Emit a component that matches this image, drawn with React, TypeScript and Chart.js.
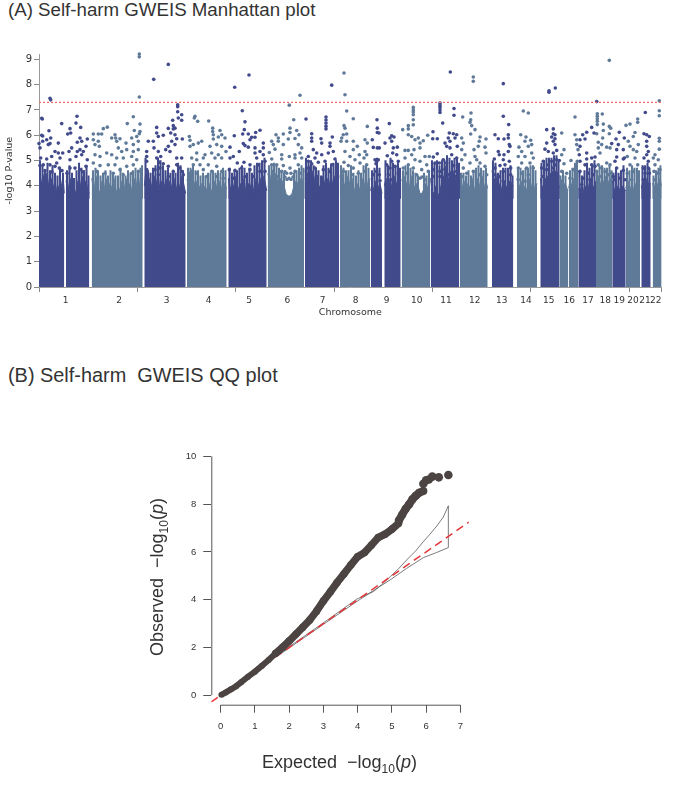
import React, { useEffect, useRef } from "react";
import { Chart, registerables } from "chart.js";

Chart.register(...registerables);

const DARK = "#414A8B";
const LIGHT = "#5F7A99";

const chromLabels = ["1","2","3","4","5","6","7","8","9","10","11","12","13","14","15","16","17","18","19","20","21","22"];
const chromCenters = [26.7,80,127.7,169.7,210,248.3,283.7,316.7,347.7,377.7,407,435.7,462.7,487,509.7,530.3,549,566.3,580.3,594,606,616.7];
const positionTicks = [0,98.7,196.7,295,393.3,491.7,590.3,622.7];
const yTicksA = [0,1,2,3,4,5,6,7,8,9];
const threshold = 7.3;
const xEnd = 622.7;
const cloudFloor = 3.5;

const bandsDark: number[][][] = [
  [[0,4.4],[2,4.0],[4,4.45],[6,4.1],[8,4.5],[10,3.9],[12,4.3],[14,3.9],[16,4.2],[18,3.7],[20,4.0],[22,3.9],[24,4.4],[25.3,3.7]],
  [[27,4.2],[29,3.8],[31,4.3],[33,3.9],[35,3.6],[37,3.8],[39,4.2],[41,3.9],[43,4.4],[45,4.0],[47,4.2],[49,3.8],[50.3,3.7]],
  [[105.3,4.0],[107,4.6],[109,4.0],[111,4.3],[113,3.9],[115,4.4],[117,4.0],[119,4.5],[121,3.8],[123,4.2],[125,3.9],[127,4.3],[129,3.8],[131,4.2],[133,3.9],[135,4.3],[137,3.8],[139,4.2],[141,3.9],[143,4.4],[146.7,3.7]],
  [[189.3,4.3],[191,3.8],[193,4.2],[195,3.9],[197,4.4],[199,3.8],[201,4.1],[203,3.9],[205,4.3],[207,3.7],[209,4.1],[211,3.9],[213,4.2],[215,3.7],[217,4.3],[219,3.9],[221,4.3],[223,3.9],[225,4.4],[227.7,3.8]],
  [[266,4.6],[268,4.3],[270,4.8],[272,4.2],[274,4.6],[276,4.1],[278,4.4],[280,3.9],[282,4.1],[284,4.4],[286,4.0],[288,4.3],[290,4.0],[292,4.4],[294,4.0],[296,4.4],[298,4.1],[300,4.4]],
  [[331.7,3.8],[333,4.1],[335,3.8],[337,4.2],[339,3.9],[341,4.1],[343,3.7]],
  [[345.3,4.0],[347,4.3],[349,3.9],[351,4.3],[353,3.9],[355,4.4],[357,4.0],[359,4.3],[361.7,3.9]],
  [[391.7,4.3],[393,3.8],[395,3.7],[397,4.0],[399,3.6],[401,3.8],[403,4.2],[405,4.4],[407,4.8],[409,4.2],[411,4.5],[413,4.3],[415,4.6],[417,4.2],[419,4.4],[420.3,4.2]],
  [[453,4.6],[455,4.2],[457,4.4],[459,3.9],[461,4.1],[463,3.8],[465,4.2],[467,3.9],[469,4.1],[471,4.2],[474.3,4.0]],
  [[501.3,4.3],[503,3.9],[505,4.1],[507,4.3],[509,4.4],[511,4.3],[513,4.6],[515,4.4],[517,4.6],[519,4.3],[520.3,4.4]],
  [[539.3,3.9],[541,3.8],[543,4.1],[545,3.7],[547,4.0],[549,3.8],[551,4.3],[553,3.8],[555,4.0],[557,4.2]],
  [[573.3,4.2],[575,3.9],[577,3.8],[579,4.0],[581,3.8],[583,4.0],[585,3.9],[586.7,3.8]],
  [[602.3,3.9],[604,4.2],[606,4.0],[608,4.3],[610,4.0],[611.7,4.1]],
];
const bandsLight: number[][][] = [
  [[52.7,4.3],[55,3.8],[57,4.4],[59,3.9],[61,3.7],[63,4.2],[65,3.8],[67,4.3],[69,3.7],[71,4.1],[73,3.9],[75,4.3],[77,3.7],[79,4.0],[81,3.8],[83,4.2],[85,3.8],[87,4.3],[89,3.9],[91,4.1],[93,3.8],[95,4.3],[97,3.9],[99,4.5],[101,3.9],[103.7,4.3]],
  [[148,4.2],[150,4.5],[152,4.6],[154,4.3],[156,4.0],[158,4.2],[160,3.9],[162,4.1],[164,3.7],[166,4.0],[168,3.8],[170,4.1],[172,3.7],[174,4.0],[176,4.2],[178,3.9],[180,4.2],[182,3.8],[184,4.2],[187.7,3.9]],
  [[228.7,4.5],[231,4.2],[233,4.6],[235,4.2],[237,4.5],[239,4.1],[241,4.3],[243,4.2],[245,4.0],[247,3.7],[249,3.6],[251,3.6],[253,3.7],[255,4.0],[257,4.2],[259,4.1],[261,4.3],[263,4.2],[265,4.3]],
  [[301,4.3],[303,4.5],[305,4.1],[307,3.9],[309,4.4],[311,4.0],[313,4.3],[315,3.9],[317,3.8],[319,4.1],[321,3.8],[323,4.3],[325,3.9],[327,4.4],[329,3.9],[331,4.3]],
  [[362.7,4.2],[365,4.4],[367,4.0],[369,4.3],[371,3.9],[373,4.4],[375,3.9],[377,4.1],[379,4.0],[381,3.7],[383,3.7],[385,3.9],[387,4.1],[389,3.9],[391,4.2]],
  [[421,4.3],[423,3.9],[425,4.2],[427,3.8],[429,4.1],[431,3.9],[433,4.3],[435,3.8],[437,4.1],[439,4.3],[441,3.9],[443,4.4],[445,3.9],[447,4.2],[448.7,3.9]],
  [[478,4.3],[480,3.9],[482,4.2],[484,3.7],[486,4.0],[488,3.8],[490,4.3],[492,3.9],[494,4.2],[496,3.8],[498,4.1]],
  [[520.3,3.9],[522,4.2],[524,3.9],[526,4.1],[529,3.8]],
  [[529.7,3.9],[531,4.2],[533,4.0],[535,4.3],[537,4.2],[539,4.4]],
  [[557,4.1],[559,4.4],[561,4.0],[563,4.3],[565,4.1],[567,4.4],[569,4.1],[571,4.3],[573.3,4.1]],
  [[586.7,3.9],[589,4.2],[591,3.8],[593,4.1],[595,3.8],[597,4.1],[599,3.9],[601,4.0]],
  [[613.7,4.1],[615,3.9],[617,4.2],[619,4.0],[621,4.3],[622.7,4.0]],
];

const cloudDark = [[1,5.0],[3.5,4.8],[6,4.6],[8.5,4.9],[11,4.6],[13.5,4.8],[16,4.5],[18.5,4.4],[21,4.7],[24,4.5],[28,4.6],[30.5,4.8],[33,4.5],[35,4.3],[37.5,4.6],[40,4.9],[42.5,4.7],[45,4.6],[47.5,4.8],[49.5,4.4],
  [106.5,5.1],[109,4.6],[111.5,4.5],[114,4.7],[116.5,4.8],[119,5.1],[121.5,5.0],[124,4.8],[126.5,4.6],[129,4.7],[131.5,4.5],[134,4.6],[136.5,4.5],[139,4.9],[141.5,4.8],[144,4.6],
  [190.5,4.7],[193,4.5],[195.5,4.6],[198,4.6],[200.5,4.7],[203,4.8],[205.5,4.7],[208,4.5],[210.5,4.7],[213,4.5],[215.5,4.8],[218,4.9],[220.5,4.9],[223,5.0],[225.5,5.1],
  [267,5.1],[269.5,5.0],[272,5.0],[274.5,4.8],[277,4.7],[279.5,4.6],[282,4.4],[284.5,4.8],[287,4.9],[289.5,4.7],[292,4.8],[294.5,4.9],[297,5.0],[299,4.9],
  [333,4.6],[335.5,4.7],[338,5.1],[340.5,4.7],[346.5,5.0],[349,4.8],[351.5,5.1],[354,4.9],[356.5,4.8],[359,5.0],[361,4.7],
  [393,5.0],[395.5,4.9],[398,5.0],[400.5,4.8],[403,5.0],[405.5,5.0],[408,5.2],[410.5,5.1],[413,5.0],[415.5,5.1],[418,5.1],[420,4.9],
  [454,5.0],[456.5,4.9],[459,4.5],[461.5,4.6],[464,4.7],[466.5,4.7],[469,4.7],[471.5,4.8],[473.5,4.4],
  [502.5,4.9],[505,5.0],[507.5,5.1],[510,5.1],[512.5,5.1],[515,5.2],[517.5,5.2],[519.5,5.0],
  [540.5,4.6],[543,4.4],[545.5,4.6],[548,4.9],[550.5,4.7],[553,4.8],[555.5,5.0],
  [574.5,4.5],[577,4.7],[579.5,4.5],[582,4.6],[584.5,4.8],
  [603.5,4.8],[606,4.8],[608.5,4.9],[610.5,4.7]];
const cloudLight = [[54,4.6],[56.5,4.7],[59,4.6],[61.5,4.4],[64,4.5],[66.5,4.6],[69,4.4],[71.5,4.6],[74,4.5],[76.5,4.4],[79,4.4],[81.5,4.7],[84,4.5],[86.5,4.4],[89,4.6],[91.5,4.5],[94,4.6],[96.5,4.7],[99,4.6],[101.5,4.7],[103,4.8],
  [149,4.7],[151.5,4.7],[154,4.8],[156.5,4.6],[159,4.6],[161.5,4.4],[164,4.5],[166.5,4.4],[169,4.5],[171.5,4.5],[174,4.6],[176.5,4.5],[179,4.6],[181.5,4.5],[184,4.7],[186.5,4.6],
  [230,4.8],[232.5,4.8],[235,4.9],[237.5,4.8],[240,4.7],[242.5,4.6],[245,4.5],[255,4.5],[257.5,4.6],[260,4.7],[262.5,4.8],[264.5,4.7],
  [302,4.8],[304.5,4.7],[307,4.6],[309.5,4.6],[312,4.8],[314.5,4.5],[317,4.4],[319.5,4.6],[322,4.5],[324.5,4.8],[327,4.8],[329.5,4.7],
  [364,4.6],[366.5,4.8],[369,4.8],[371.5,4.7],[374,4.6],[376.5,4.5],[379,4.4],[385,4.5],[387.5,4.4],[390,4.6],
  [422,4.5],[424.5,4.5],[427,4.4],[429.5,4.6],[432,4.4],[434.5,4.6],[437,4.7],[439.5,4.8],[442,4.7],[444.5,4.6],[447,4.7],
  [479,4.7],[481.5,4.7],[484,4.6],[486.5,4.7],[489,4.7],[491.5,4.8],[494,4.8],[496.5,4.6],
  [521.5,4.4],[524,4.6],[526.5,4.4],[531,4.6],[533.5,4.7],[536,4.9],[538,5.0],
  [558,4.6],[560.5,4.8],[563,4.8],[565.5,4.7],[568,4.7],[570.5,4.8],[572.5,4.6],
  [588,4.7],[590.5,4.6],[593,4.8],[595.5,4.7],[598,4.7],[600,4.6],
  [614.5,4.4],[617,4.6],[619.5,4.7],[621.5,4.8]];

const hitsChr1 = [[11,7.46],[11.7,7.4],[2.7,6.67],[3.3,6.64],[10,6.18],[22.7,6.46],[38,6.75],[37,6.48],[31,6.26],[31.7,6.09],[28.7,6.05],[41.7,6.31],[2.7,6],[3.7,5.97],[11.7,5.89],[7.7,5.82],[3.7,5.76],[19.3,5.69],[0,5.67],[9.3,5.63],[11,5.67],[41,5.89],[48.3,5.85],[38.3,5.72],[42.7,5.76],[47,5.56],[1,5.5],[16,5.36],[19.3,5.3],[23.7,5.3],[32.7,5.5],[30,5.36],[41,5.43],[38.3,5.36],[44.3,5.36],[37,5.16],[42.7,5.23],[48.3,5.03],[31,5.03],[1.7,5.1],[7.7,5.06],[12.7,5.16],[21,5.1],[17.7,4.9],[11,4.83],[4.3,4.83],[1,4.8],[16,4.77],[20.3,4.7],[31,4.7],[36,4.7],[41,4.64],[47,4.77],[6,4.6],[13,4.55],[23,4.6],[28,4.5],[44,4.55]];
const hitsChr2 = [[100.3,9.21],[100.3,9.1],[100.3,7.51],[94.3,6.73],[88.3,6.46],[101,6.44],[68.3,6.32],[64.3,6.26],[95.3,6.19],[101,6.15],[100.3,6.06],[54.3,6.05],[59.3,6.05],[62.7,6.05],[76,6.02],[76.7,5.89],[81,5.86],[92.7,5.89],[97.7,5.95],[54.3,5.82],[59.3,5.76],[72.7,5.89],[77.7,5.76],[87,5.69],[99.3,5.76],[94.3,5.63],[56,5.63],[60.3,5.56],[67.7,5.3],[72.7,5.23],[79.3,5.5],[82.7,5.36],[87.7,5.43],[94.3,5.36],[99.3,5.43],[56,5.23],[61,5.16],[77.7,5.1],[84.3,5.1],[92.7,5.16],[97.7,5.03],[54.3,4.9],[61,4.8],[69.3,4.83],[76,4.83],[87.7,4.77],[94.3,4.83],[81,4.64],[57.7,4.57],[66,4.5],[74.3,4.5],[84.3,4.44],[92.7,4.5],[99.3,4.57]];
const hitsChr3 = [[114.7,8.21],[129.3,8.8],[138.7,7.2],[138.7,7.13],[138.7,6.93],[142.7,6.81],[139.3,6.68],[133.7,6.59],[142.7,6.59],[117.7,6.31],[129.3,6.27],[134.3,6.38],[134.3,6.25],[136,6.28],[117.7,6.09],[124.3,6],[119.3,5.95],[131.7,6.09],[136,6.02],[137.7,5.86],[143.3,5.85],[109.3,5.76],[114.3,5.76],[132.7,5.76],[136,5.63],[129.3,5.56],[115,5.5],[126.7,5.43],[131,5.36],[107.7,5.36],[119.3,5.36],[107.7,5.16],[117.7,5.1],[121.7,5.16],[137.7,5.1],[142.7,5.1],[107.7,4.97],[120.3,4.93],[124.3,4.87],[137.7,4.83],[141,4.7],[107.7,4.64],[116,4.64],[129.3,4.77],[121,4.7],[134.3,4.57],[142.7,4.57],[129.3,4.37],[119.3,4.44],[107.7,4.37],[144.3,4.44]];
const hitsChr4 = [[156,6.75],[155.3,6.68],[158.7,6.55],[169.7,6.56],[173.7,6.28],[173.7,6.15],[181,6.19],[182.7,6.02],[150.3,5.95],[174.3,6.02],[151,5.8],[159.3,5.69],[162.7,5.76],[174.3,5.85],[179.3,5.93],[186,5.89],[151,5.56],[154.3,5.63],[171,5.56],[177.7,5.63],[182.7,5.56],[157.7,5.3],[166,5.23],[172.7,5.3],[179.3,5.23],[187,5.36],[152.7,5.1],[157.7,5.03],[164.3,5.1],[176,5.1],[182.7,5.1],[154.3,4.83],[161,4.83],[169.3,4.83],[177.7,4.77],[152.7,4.57],[157.7,4.5],[164.3,4.64],[172.7,4.57],[182.7,4.57],[167.7,4.37],[177.7,4.37],[184.3,4.3]];
const hitsChr5 = [[195.7,7.9],[210,8.38],[203.3,6.97],[206,6.53],[205.3,6.22],[221,6.2],[216.7,6.11],[195.3,5.98],[209.3,6.05],[203.7,6.05],[212.7,5.92],[216,5.92],[191,5.53],[211,5.82],[204.3,5.67],[206,5.59],[209.3,5.53],[224.3,5.69],[216,5.5],[224.3,5.5],[200.3,5.36],[194.3,5.16],[216,5.3],[221,5.36],[191,5.1],[217.7,5.1],[224.3,5.23],[198.3,4.9],[205,4.93],[211,4.83],[219.3,4.83],[226,4.97],[190.3,4.64],[196,4.61],[202.7,4.7],[211,4.64],[221,4.57],[226,4.57],[206,4.37],[214.3,4.37],[194.3,4.3]];
const hitsChr6 = [[261,7.58],[250.3,7.19],[254.7,6.61],[251,6.28],[257.7,6.19],[251,6.11],[260,6.02],[244.3,6.05],[237,6.02],[239.3,5.89],[249.3,5.85],[256,5.87],[232.7,5.76],[239.3,5.76],[244.3,5.63],[234.3,5.63],[259.3,5.63],[262.7,5.5],[230.3,5.32],[236,5.45],[242.7,5.23],[256,5.23],[261,5.3],[232.7,5.06],[242.7,5.06],[250.3,5.16],[256,5.1],[262.7,5.1],[232.7,4.83],[237.7,4.83],[244.3,4.8],[251,4.7],[259.3,4.83],[234.3,4.57],[242.7,4.57],[247.7,4.5],[256,4.57],[261,4.5],[239.3,4.37],[246,4.35],[248,4.25],[250,4.3],[252,4.25],[254,4.35],[246,4.55],[252,4.5]];
const hitsChr7 = [[292.7,7.98],[267,6.64],[287,6.72],[287,6.6],[287,6.48],[287,6.36],[287,6.25],[272.7,6.06],[272.7,5.89],[272.7,5.76],[293.3,5.93],[282,5.86],[291,5.69],[291,5.56],[282.7,5.69],[274.3,5.43],[277.7,5.3],[282.7,5.23],[289.3,5.3],[294.3,5.36],[269.3,5.16],[276,5.1],[296,5.06],[269.3,4.97],[272.7,4.87],[279.3,4.93],[286,4.97],[292.7,4.83],[269.3,4.7],[276,4.7],[284.3,4.64],[291,4.57],[269.3,4.44],[277.7,4.37],[297.7,4.5]];
const hitsChr8 = [[305,8.46],[306,7.6],[307.7,6.96],[314.3,6.65],[305,6.38],[306,6.28],[328.3,6.35],[307.7,6.05],[304.3,6.02],[302.7,5.89],[302,5.76],[307.7,5.76],[314.3,5.76],[326,5.82],[328.3,5.69],[318.3,5.56],[314.3,5.43],[326,5.36],[306,5.36],[320.3,5.23],[327.7,5.23],[311,5.16],[316,5.03],[325,5.1],[305,4.93],[309.3,4.8],[321,4.9],[314.3,4.7],[327.7,4.83],[304.3,4.57],[319.3,4.5],[326,4.57],[312.7,4.44]];
const hitsChr9 = [[338,6.61],[350.3,6.46],[338.3,6.28],[338.3,6.11],[340,6.09],[352.7,5.98],[351,5.89],[355,5.93],[333.3,5.82],[352.7,5.76],[346,5.69],[334.3,5.52],[338.3,5.5],[340.3,5.5],[354.3,5.5],[358.3,5.53],[353.7,5.3],[348.3,5.19],[357.7,5.23],[336,5.03],[337.7,4.97],[339.3,5.03],[337,4.87],[352.7,4.97],[347.7,4.83],[359.3,4.97],[351,4.7],[356,4.77],[337.7,4.57],[334.3,4.44],[340.3,4.44],[349.3,4.44],[359.3,4.5],[352.7,4.24],[341,4.2]];
const hitsChr10 = [[374.3,7.1],[374.3,7],[374.3,6.92],[374.3,6.81],[374.3,6.61],[374.3,6.41],[363.7,6.22],[369.3,6.38],[369.3,6.25],[388.7,6],[384.3,5.78],[369.3,6.02],[372.7,5.95],[379.3,5.89],[376,5.82],[381,5.69],[366,5.4],[369.3,5.4],[375,5.43],[381,5.5],[372.7,5.23],[386,5.16],[390.3,5.16],[366,5.1],[376,5.03],[381,4.97],[387.7,4.83],[369.3,4.83],[364.3,4.7],[374.3,4.7],[382.7,4.64],[367.7,4.5],[377.7,4.44],[389.3,4.57],[386,4.24],[372.7,4.18],[381,4.3],[383,4.35]];
const hitsChr11 = [[411.3,8.5],[401,7.27],[401,7.18],[401,7.1],[401,7],[401,6.9],[415,7.06],[415,6.79],[403.7,6.48],[394,6.14],[410.3,6.09],[414.3,6.06],[417.7,6.02],[393.7,5.86],[398.3,5.86],[409.3,5.89],[416,5.89],[406,5.69],[411,5.76],[407.7,5.56],[411,5.5],[418.3,5.56],[412.7,5.23],[398.3,5.27],[394.3,5.14],[417.7,5.1],[404.3,5.03],[396,4.9],[400.3,4.9],[407.7,4.9],[414.3,4.8],[418.3,4.8],[394.3,4.64],[401,4.57],[406,4.66],[412.7,4.53],[417.7,4.57],[394.3,4.37],[401,4.37],[409.3,4.44],[416,4.37]];
const hitsChr12 = [[434.3,8.3],[434.3,8.13],[432,6.88],[423.7,6.72],[431.7,6.61],[431,6.51],[432.7,6.38],[436,6.22],[431.7,6.05],[422.7,5.89],[441,5.93],[447,5.85],[440.3,5.76],[424.3,5.69],[439.3,5.56],[446,5.53],[422.7,5.43],[435,5.43],[426,5.23],[436,5.16],[447,5.3],[422.7,5.03],[437.7,5.03],[431,4.9],[441,4.9],[424.3,4.7],[446,4.77],[434.3,4.57],[427.7,4.5],[441,4.44],[447.7,4.44],[422.7,4.37]];
const hitsChr13 = [[464.3,8.04],[464.3,6.75],[469.7,6.42],[456,6.02],[459.3,5.86],[465,5.85],[469.3,6.02],[469.3,5.89],[470.3,5.63],[471,5.56],[459.3,5.36],[460.3,5.23],[465,5.23],[469.3,5.36],[455.3,5.06],[464.3,5.03],[470.3,4.97],[461,4.8],[466,4.83],[456,4.7],[471.7,4.7],[464.3,4.57],[456,4.44],[460.3,4.37],[471.7,4.44],[464.3,4.18]];
const hitsChr14 = [[484.3,6.96],[489.3,6.88],[481.7,6.02],[487,5.93],[491.7,5.8],[486,5.76],[480,5.53],[492.7,5.63],[489.3,5.56],[482.7,5.36],[492.7,5.3],[479.3,5.16],[486,5.16],[494.3,5.1],[482.7,4.9],[491,4.9],[479.3,4.7],[487.7,4.7],[494.3,4.7],[482.7,4.5],[489.3,4.44],[479.3,4.24],[486,4.18]];
const hitsChr15 = [[510,7.76],[510,7.7],[516.3,7.87],[507.7,6.22],[514.3,6.25],[514.3,6.06],[516,6.02],[512.7,5.93],[516,5.86],[507.7,5.69],[514.3,5.76],[516,5.63],[506,5.45],[509.3,5.36],[514.3,5.3],[517.7,5.4],[504.3,4.97],[512.7,4.97],[517.7,5.03],[520.3,5],[509.3,4.83],[516,4.83],[502.7,4.7],[507.7,4.64],[514.3,4.7],[504.3,4.37],[511,4.44],[517.7,4.5],[507.7,4.24]];
const hitsChr16 = [[536,6.72],[522.7,6.09],[536,6.02],[537.7,5.82],[537.7,5.63],[525,5.43],[539,5.43],[522.7,5.23],[532,5],[525,4.87],[538.3,4.97],[522.7,4.57],[534.3,4.64],[527.7,4.5],[537.7,4.5],[522.7,4.18],[531,4.3]];
const hitsChr17 = [[557.7,7.33],[547.7,6.12],[552.7,6.31],[543.7,6.02],[541,5.82],[546,5.85],[541,5.56],[540.3,5.23],[547.7,5.3],[555,6.09],[541,4.97],[547.7,5.06],[552.7,5.1],[556,5.14],[546,4.83],[552.7,4.83],[556,4.77],[541,4.57],[549.3,4.5],[554.3,4.44],[544.3,4.3],[551,4.24],[542.7,4.05]];
const hitsChr18 = [[570.3,8.96],[558.3,6.85],[558.3,6.75],[558.3,6.65],[558.3,6.55],[563.3,6.84],[564.3,6.44],[558.3,6.42],[570.3,6.35],[571.7,6.28],[564.3,6.19],[557.7,6.06],[570.3,6.06],[563.7,5.89],[559.3,5.72],[562.7,5.63],[559.3,5.5],[571,5.5],[561,5.3],[567.7,5.53],[559.3,4.83],[567.7,4.9],[571,4.83],[562.7,4.7],[557.7,4.57],[566,4.57],[572.7,4.5],[561,4.37],[569.3,4.44]];
const hitsChr19 = [[580.3,6.12],[577,5.85],[585.3,5.89],[579.3,5.63],[572.7,5.67],[577.7,5.43],[584.3,5.43],[577.7,5.14],[585.3,5.1],[576,4.97],[584.3,5.06],[577.7,4.7],[584.3,4.61],[574.3,4.37],[581,4.3],[586,4.24],[576,4.24]];
const hitsChr20 = [[587,6.39],[591,6.44],[598.7,6.64],[598.7,6.51],[596,6.11],[594.3,5.95],[599.3,5.63],[589.3,5.76],[591,5.56],[594.3,5.43],[597.7,5.36],[588.3,5.16],[596,5.1],[591,4.83],[598.7,4.83],[594.3,4.57],[588.3,4.5],[599.3,4.44],[592.7,4.24]];
const hitsChr21 = [[606.3,6.9],[605,6.06],[607.7,6.02],[610.3,5.95],[607.7,5.76],[607.7,5.56],[609.3,5.36],[605,5.1],[607.7,5.23],[609.3,4.97],[604.3,4.7],[609.3,4.7],[606,4.5],[610.3,4.5],[604.3,4.24]];
const hitsChr22 = [[620.3,7.36],[620.3,6.97],[620.3,6.77],[620.3,5.88],[620.3,5.76],[620.3,5.45],[616,5.23],[614.3,5.1],[619.3,5.03],[616,4.83],[621,4.64],[615,4.57],[619.3,4.5],[616,4.24]];
const hitsByChrom = [hitsChr1,hitsChr2,hitsChr3,hitsChr4,hitsChr5,hitsChr6,hitsChr7,hitsChr8,hitsChr9,hitsChr10,hitsChr11,hitsChr12,hitsChr13,hitsChr14,hitsChr15,hitsChr16,hitsChr17,hitsChr18,hitsChr19,hitsChr20,hitsChr21,hitsChr22];

const qqBase = [[0.02,0.02],[0.15,0.12],[0.3,0.25],[0.45,0.38],[0.6,0.55],[0.8,0.78],[1,0.99],[1.2,1.23],[1.4,1.48],[1.6,1.75]];
const qqMiddle = [[1.6,1.75],[1.8,2],[2,2.27],[2.2,2.56],[2.4,2.85],[2.6,3.15],[2.8,3.52],[3,3.95],[3.2,4.32],[3.4,4.72],[3.6,5.08],[3.8,5.45],[4,5.8],[4.2,5.97],[4.4,6.28],[4.6,6.6],[4.8,6.74],[5,6.95],[5.2,7.2]];
const qqUpper = [[5.2,7.3],[5.3,7.55],[5.4,7.8],[5.5,7.98],[5.6,8.2],[5.7,8.35],[5.8,8.48],[5.92,8.55]];
const qqTail = [[5.92,8.85],[6,9],[6.08,9.03],[6.18,9.15],[6.37,9.12],[6.65,9.22]];
const qqBand = [[1.7,1.68],[2,1.98],[3,2.97],[3.97,3.92],[4.46,4.38],[4.95,4.83],[5.43,5.31],[5.92,5.76],[6.3,5.97],[6.65,6.18],[6.65,7.93],[6.5,7.45],[6.31,7.08],[6.1,6.72],[5.92,6.43],[5.7,6.05],[5.43,5.66],[5.2,5.3],[4.95,4.96],[4.7,4.63],[4.46,4.34],[3.97,4.02],[3,3.03],[2,2.03],[1.7,1.72]];
const qqRefLine = [[-0.2745,-0.2745],[7.25,7.25]];
const qqXTicks = [0,1,2,3,4,5,6,7];
const qqYTicks = [0,2,4,6,8,10];

const pts = (rows: number[][]) => rows.map(([x, y]) => ({ x, y }));
const columns = (rows: number[][]) => rows.map(([x, y]) => ({ x, y: [cloudFloor, y] }));

function fixed(ticks: number[]) {
  return (scale: any) => {
    scale.ticks = ticks.map((value) => ({ value }));
  };
}

const rAxes = {
  id: "rAxes",
  afterDatasetsDraw(chart: any) {
    const { ctx, scales, chartArea } = chart;
    ctx.save();
    ctx.strokeStyle = "#555";
    ctx.lineWidth = 1;
    ctx.beginPath();
    ctx.moveTo(scales.x.getPixelForValue(0), chartArea.bottom + 0.5);
    ctx.lineTo(scales.x.getPixelForValue(7), chartArea.bottom + 0.5);
    ctx.moveTo(chartArea.left + 0.5, scales.y.getPixelForValue(0));
    ctx.lineTo(chartArea.left + 0.5, scales.y.getPixelForValue(10));
    ctx.stroke();
    ctx.restore();
  },
};

export default function App() {
  const aRef = useRef<HTMLCanvasElement>(null);
  const bRef = useRef<HTMLCanvasElement>(null);

  useEffect(() => {
    const bandDatasets = [
      ...bandsDark.map((b) => ({ b, c: DARK })),
      ...bandsLight.map((b) => ({ b, c: LIGHT })),
    ].map(({ b, c }) => ({
      data: pts(b),
      showLine: true,
      fill: "origin",
      backgroundColor: c,
      borderColor: c,
      borderWidth: 1,
      pointRadius: 0,
      order: 4,
    }));
    const cloudDatasets = [
      { data: columns(cloudDark), c: DARK },
      { data: columns(cloudLight), c: LIGHT },
    ].map(({ data, c }) => ({
      type: "bar",
      data,
      backgroundColor: c,
      barThickness: 1.4,
      grouped: false,
      order: 3,
    }));
    const hitDatasets = hitsByChrom.map((h, i) => ({
      data: pts(h),
      backgroundColor: i % 2 === 0 ? DARK : LIGHT,
      pointBorderWidth: 0,
      borderWidth: 0,
      pointRadius: 1.8,
      clip: false,
      order: 2,
    }));
    const a = new Chart(aRef.current!, {
      type: "scatter",
      data: {
        datasets: [
          ...bandDatasets,
          ...cloudDatasets,
          ...hitDatasets,
          {
            data: pts([[0, threshold], [xEnd, threshold]]),
            showLine: true,
            borderColor: "#EE6A62",
            borderWidth: 1.2,
            borderDash: [2, 2],
            pointRadius: 0,
            order: 1,
          },
        ],
      } as any,
      options: {
        responsive: false,
        animation: false,
        layout: { padding: { top: 54.3, right: 23.3, left: 0, bottom: 0 } },
        plugins: { legend: { display: false }, tooltip: { enabled: false } },
        scales: {
          x: {
            type: "linear",
            min: 0,
            max: xEnd,
            offset: false,
            afterBuildTicks: fixed([...positionTicks, ...chromCenters]),
            afterFit: (s: any) => { s.height = 31; },
            grid: {
              offset: false,
              drawOnChartArea: false,
              tickLength: 5,
              tickColor: (c: any) => (positionTicks.includes(c.tick?.value) ? "#8a8a8a" : "rgba(0,0,0,0)"),
            },
            border: { color: "#9a9a9a" },
            ticks: {
              autoSkip: false,
              maxRotation: 0,
              minRotation: 0,
              padding: 3,
              color: "#333",
              font: { family: "DejaVu Sans", size: 9 },
              callback: (v: any) => {
                const i = chromCenters.indexOf(v);
                return i >= 0 ? chromLabels[i] : "";
              },
            },
            title: {
              display: true,
              text: "Chromosome",
              color: "#333",
              font: { family: "DejaVu Sans", size: 9.5 },
              padding: { top: 0, bottom: 0 },
            },
          },
          y: {
            type: "linear",
            min: 0,
            max: 9.2,
            afterBuildTicks: fixed(yTicksA),
            afterFit: (s: any) => { s.width = 39; },
            grid: { drawOnChartArea: false, tickLength: 5, tickColor: "#8a8a8a" },
            border: { color: "#9a9a9a" },
            ticks: {
              padding: 2,
              color: "#333",
              font: { family: "DejaVu Sans", size: 10 },
              callback: (v: any) => String(v),
            },
            title: {
              display: true,
              text: "-log10 P-value",
              color: "#333",
              font: { family: "DejaVu Sans", size: 9.5 },
              padding: { top: 4, bottom: 0 },
            },
          },
        },
      } as any,
    });

    const ink = "#4B4442";
    const b = new Chart(bRef.current!, {
      type: "scatter",
      data: {
        datasets: [
          { data: pts(qqBase), showLine: true, borderColor: ink, backgroundColor: ink, borderWidth: 6, pointBorderWidth: 0, pointRadius: 3, clip: false, order: 1 },
          { data: pts(qqMiddle), showLine: true, borderColor: ink, backgroundColor: ink, borderWidth: 7.5, pointBorderWidth: 0, pointRadius: 3.7, clip: false, order: 1 },
          { data: pts(qqUpper), showLine: true, borderColor: ink, backgroundColor: ink, borderWidth: 8, pointBorderWidth: 0, pointRadius: 4, clip: false, order: 1 },
          { data: pts(qqTail), backgroundColor: ink, borderWidth: 0, pointBorderWidth: 0, pointRadius: 4.3, clip: false, order: 1 },
          { data: pts(qqRefLine), showLine: true, borderColor: "#E5363A", borderWidth: 1.5, borderDash: [8, 5], pointRadius: 0, order: 2 },
          { data: pts(qqBand), showLine: true, borderColor: "#5a5a5a", borderWidth: 0.8, pointRadius: 0, order: 3 },
        ],
      } as any,
      options: {
        responsive: false,
        animation: false,
        layout: { padding: { top: 106.3, right: 216.1, left: 0, bottom: 0 } },
        plugins: { legend: { display: false }, tooltip: { enabled: false } },
        scales: {
          x: {
            type: "linear",
            min: -0.2745,
            max: 7.25,
            afterBuildTicks: fixed(qqXTicks),
            afterFit: (s: any) => { s.height = 84.3; },
            grid: { drawOnChartArea: false, tickLength: 8, tickColor: "#555" },
            border: { display: false },
            ticks: { padding: 8, color: "#333", font: { family: "Liberation Sans", size: 9.5 }, maxRotation: 0, callback: (v: any) => String(v) },
          },
          y: {
            type: "linear",
            min: -0.393,
            max: 10,
            afterBuildTicks: fixed(qqYTicks),
            afterFit: (s: any) => { s.width = 211.3; },
            grid: { drawOnChartArea: false, tickLength: 8, tickColor: "#555" },
            border: { display: false },
            ticks: { padding: 7, color: "#333", font: { family: "Liberation Sans", size: 9.5 }, callback: (v: any) => String(v) },
          },
        },
      } as any,
      plugins: [rAxes],
    });

    return () => {
      a.destroy();
      b.destroy();
    };
  }, []);

  const sans = "'Liberation Sans', Arial, sans-serif";
  return (
    <div style={{ position: "absolute", left: 0, top: 0, width: 685, height: 789, background: "#fff", overflow: "hidden", fontFamily: sans, color: "#333" }}>
      <div style={{ position: "absolute", left: 8, top: 0, fontSize: 18.7, lineHeight: "20px", whiteSpace: "pre" }}>(A) Self-harm GWEIS Manhattan plot</div>
      <div style={{ position: "absolute", left: 8, top: 365, fontSize: 19.9, lineHeight: "20px", whiteSpace: "pre" }}>(B) Self-harm  GWEIS QQ plot</div>
      <canvas ref={aRef} width={685} height={318.5} style={{ position: "absolute", left: 0, top: 0, display: "block" }} />
      <canvas ref={bRef} width={685} height={439} style={{ position: "absolute", left: 0, top: 350, display: "block" }} />
      <div style={{ position: "absolute", left: 262, top: 750, fontSize: 18, lineHeight: "24px", whiteSpace: "pre" }}>
        Expected  −log<sub style={{ fontSize: 12, lineHeight: 0 }}>10</sub>(<i>p</i>)
      </div>
      <div style={{ position: "absolute", left: 157, top: 577, width: 0, height: 0 }}>
        <div style={{ position: "absolute", left: -90, top: -12, width: 180, textAlign: "center", transform: "rotate(-90deg)", fontSize: 18, lineHeight: "24px", whiteSpace: "pre" }}>
          Observed  −log<sub style={{ fontSize: 12, lineHeight: 0 }}>10</sub>(<i>p</i>)
        </div>
      </div>
    </div>
  );
}
